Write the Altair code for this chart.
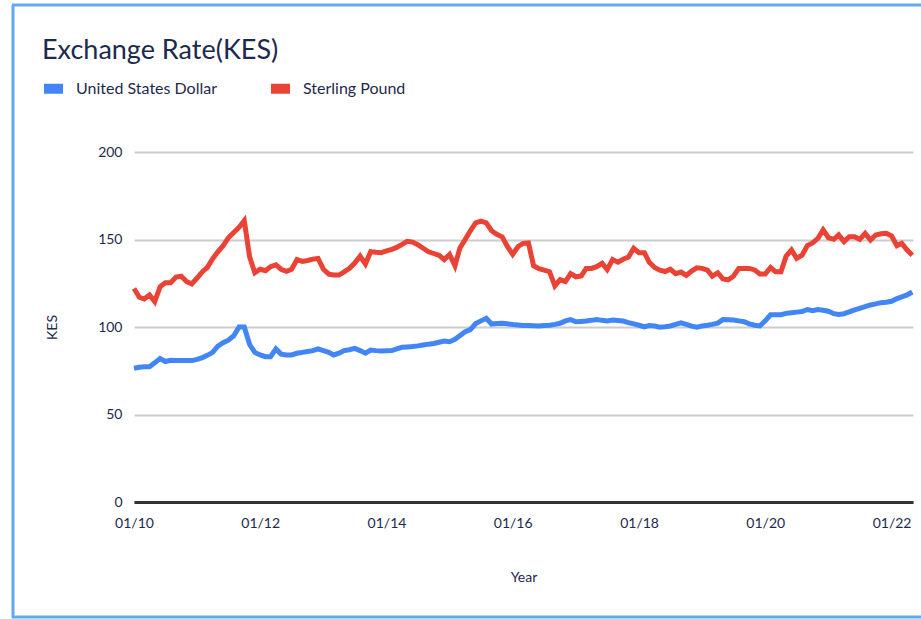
import altair as alt
import pandas as pd

# Monthly exchange rates (KES), Jan 2010 .. May 2022
usd = [
    76.4, 77.0, 77.3, 77.3, 79.5, 82.0, 80.3, 81.0, 80.8, 80.8,
    80.8, 80.8, 81.5, 82.5, 83.8, 85.5, 89.0, 91.0, 92.5, 95.0,
    100.0, 100.0, 90.0, 85.5, 84.0, 83.0, 83.0, 87.5, 84.5, 84.0,
    84.0, 85.0, 85.5, 86.0, 86.5, 87.5, 86.5, 85.5, 84.0, 85.0,
    86.5, 87.0, 87.8, 86.5, 85.0, 86.8, 86.5, 86.3, 86.4, 86.5,
    87.5, 88.4, 88.6, 88.8, 89.2, 89.7, 90.2, 90.6, 91.3, 92.0,
    91.6, 93.0, 95.0, 97.3, 98.5, 102.0, 103.5, 105.0, 101.7, 102.0,
    102.1, 101.8, 101.4, 101.1, 100.8, 100.8, 100.7, 100.6, 100.8, 101.0,
    101.5, 102.1, 103.5, 104.2, 103.0, 103.2, 103.4, 103.8, 104.3, 103.8,
    103.5, 104.0, 103.7, 103.4, 102.5, 101.8, 101.0, 100.0, 100.8, 100.6,
    99.9, 100.2, 100.6, 101.5, 102.4, 101.5, 100.5, 99.9, 100.6, 101.0,
    101.5, 102.2, 104.2, 104.1, 104.0, 103.5, 103.0, 101.8, 101.0, 100.6,
    103.5, 107.0, 107.0, 107.0, 107.8, 108.2, 108.5, 108.8, 110.0, 109.3,
    110.0, 109.6, 109.0, 107.6, 107.2, 107.6, 108.6, 109.8, 110.7, 111.7,
    112.6, 113.2, 113.9, 114.2, 114.7, 116.2, 117.2, 118.3, 120.0,
]
gbp = [
    122.0, 117.0, 116.0, 118.3, 114.5, 123.0, 125.3, 125.3, 128.5, 129.0,
    126.0, 124.6, 128.0, 131.6, 134.0, 139.0, 143.0, 146.5, 151.0, 154.0,
    157.0, 160.8, 140.0, 131.0, 133.0, 132.2, 134.5, 135.5, 133.0, 131.8,
    133.0, 138.5, 137.5, 138.0, 138.8, 139.2, 133.0, 130.2, 129.7, 129.7,
    131.5, 133.5, 136.5, 140.5, 136.0, 143.0, 142.7, 142.5, 143.5, 144.4,
    145.5, 147.2, 149.0, 148.5, 147.0, 145.0, 143.0, 142.0, 141.0, 138.5,
    141.5, 135.0, 145.0, 150.0, 155.0, 159.5, 160.5, 159.5, 155.0, 153.0,
    151.5, 146.0, 141.5, 146.0, 147.8, 148.0, 135.0, 133.3, 132.5, 131.6,
    123.5, 127.0, 126.0, 130.5, 128.7, 129.2, 133.5, 133.5, 134.5, 136.4,
    132.8, 138.5, 137.0, 138.7, 140.0, 145.0, 142.5, 142.5, 137.0, 134.0,
    132.5, 131.7, 133.0, 130.5, 131.4, 129.5, 132.0, 133.8, 133.5, 132.5,
    129.0, 131.0, 127.5, 127.0, 129.0, 133.5, 133.5, 133.5, 132.6, 130.3,
    130.3, 134.0, 131.6, 131.6, 140.5, 144.0, 139.2, 141.0, 146.5, 148.0,
    150.7, 155.5, 151.0, 150.1, 152.6, 148.8, 151.6, 151.6, 150.1, 153.5,
    149.7, 152.6, 153.3, 153.5, 152.0, 146.5, 147.8, 144.0, 141.0,
]
series_names = ["United States Dollar", "Sterling Pound"]
series_colors = ["#4285f4", "#ea4335"]
y_ticks = [0, 50, 100, 150, 200]

months = pd.date_range("2010-01-01", periods=len(usd), freq="MS")
df = pd.concat([
    pd.DataFrame({"date": months, "value": usd, "currency": series_names[0]}),
    pd.DataFrame({"date": months, "value": gbp, "currency": series_names[1]}),
])

FONT = "Lato"
NAVY = "#1d2a4d"

lines = alt.Chart(df).mark_line(strokeWidth=5).encode(
    x=alt.X(
        "date:T",
        title="Year",
        scale=alt.Scale(domain=["2010-01-01", "2022-05-05"]),
        axis=alt.Axis(
            format="%m/%y",
            values=[f"{y}-01-01" for y in range(2010, 2023, 2)],
            grid=False,
            ticks=False,
            labelFlush=False,
            labelOverlap=False,
            domainColor="#333333",
            domainWidth=3,
            labelPadding=14,
            titlePadding=40,
        ),
    ),
    y=alt.Y(
        "value:Q",
        title="KES",
        scale=alt.Scale(domain=[0, 200]),
        axis=alt.Axis(
            values=y_ticks,
            domain=False,
            ticks=False,
            gridColor="#cccccc",
            gridWidth=2,
            labelPadding=12,
            titlePadding=38,
        ),
    ),
    color=alt.Color(
        "currency:N",
        scale=alt.Scale(domain=series_names, range=series_colors),
        legend=alt.Legend(
            title=None,
            orient="none",
            legendX=-95,
            legendY=-78,
            direction="horizontal",
            symbolType="M-1,0H1",
            symbolSize=361,
            symbolStrokeWidth=10,
            labelFontSize=16,
            labelColor=NAVY,
            labelFont=FONT,
            labelOffset=8,
            columnPadding=33,
        ),
    ),
)

frame_left = alt.Chart().mark_rule(color="#64a8f0", strokeWidth=3).encode(
    x=alt.value(-121), y=alt.value(-147), y2=alt.value(466)
)
frame_top = alt.Chart().mark_rule(color="#64a8f0", strokeWidth=3).encode(
    x=alt.value(-122), x2=alt.value(800), y=alt.value(-147)
)
frame_bottom = alt.Chart().mark_rule(color="#64a8f0", strokeWidth=3).encode(
    x=alt.value(-122), x2=alt.value(800), y=alt.value(465)
)

chart = alt.layer(lines, frame_left, frame_top, frame_bottom).properties(
    width=779,
    height=350,
    autosize=alt.AutoSizeParams(type="none"),
    padding={"left": 134, "top": 152, "right": 8, "bottom": 117},
    title=alt.Title(
        "Exchange Rate(KES)",
        anchor="start",
        frame="group",
        baseline="alphabetic",
        offset=0,
        dx=-92,
        dy=82,
        fontSize=27,
        fontWeight="normal",
        font=FONT,
        color=NAVY,
    ),
).configure_view(stroke=None).configure_axis(
    labelFont=FONT,
    labelFontSize=14,
    labelColor=NAVY,
    titleFont=FONT,
    titleFontSize=14,
    titleFontWeight="normal",
    titleColor=NAVY,
)

chart.save("out.html", embed_options={"renderer": "svg", "actions": False})
